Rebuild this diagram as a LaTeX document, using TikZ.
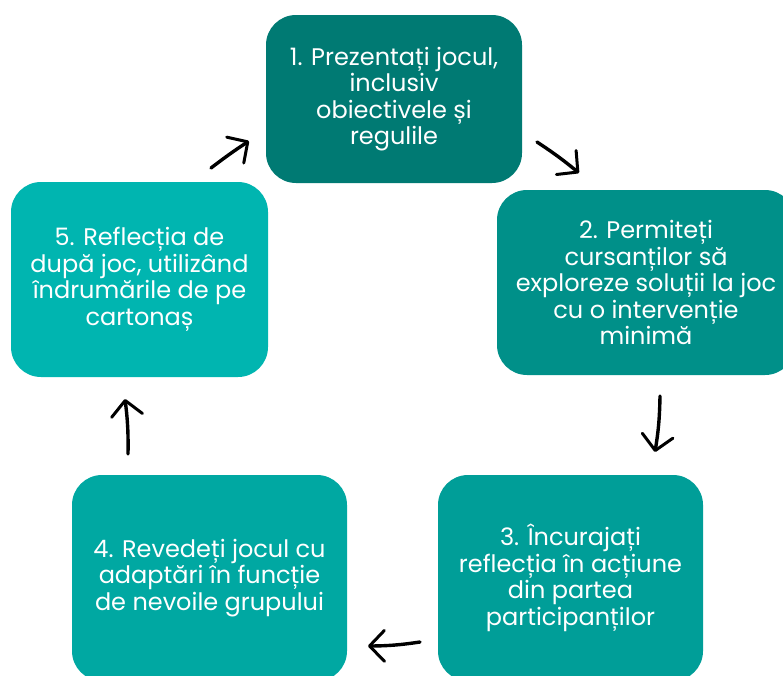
\documentclass[tikz,border=0pt]{standalone}
\usepackage{fontspec}
\setmainfont{Poppins}
\usetikzlibrary{arrows.meta}
\definecolor{cA}{HTML}{007A73}
\definecolor{cB}{HTML}{009089}
\definecolor{cC}{HTML}{009E98}
\definecolor{cD}{HTML}{00A8A2}
\definecolor{cE}{HTML}{00B5B0}
\tikzset{
  stepbox/.style={rounded corners=30pt, inner sep=0pt, align=center, text=white,
    font=\fontsize{24}{26.5}\selectfont},
  flow/.style={line width=3.4pt, line cap=round, draw=black,
    -{Straight Barb[length=15pt,width=31pt,line width=3pt,round]}}
}
\begin{document}
\begin{tikzpicture}[x=1pt,y=-1pt]
\useasboundingbox (0,0) rectangle (783,675);
\clip (0,0) rectangle (783,675);
\node[stepbox, fill=cA, minimum width=256pt, minimum height=168pt] (b1) at (394,99)
  {1. Prezentați jocul,\\inclusiv\\obiectivele și\\regulile};
\node[stepbox, fill=cB, minimum width=298pt, minimum height=185pt] (b2) at (646,282.5)
  {2. Permiteți\\cursanților să\\exploreze soluții la joc\\cu o intervenție\\minimă};
\node[stepbox, fill=cC, minimum width=265pt, minimum height=206pt] (b3) at (570.5,578)
  {3. Încurajați\\reflecția în acțiune\\din partea\\participanților};
\node[stepbox, fill=cD, minimum width=275pt, minimum height=206pt] (b4) at (209.5,578)
  {4. Revedeți jocul cu\\adaptări în funcție\\de nevoile grupului};
\node[stepbox, fill=cE, minimum width=257pt, minimum height=195pt] (b5) at (139.5,279.5)
  {5. Reflecția de\\după joc, utilizând\\îndrumările de pe\\cartonaș};
\coordinate (a1s) at (537,142); \coordinate (a1e) at (579,173);
\coordinate (a2s) at (660,396); \coordinate (a2e) at (655,452);
\coordinate (a3s) at (420,642); \coordinate (a3e) at (368,646);
\coordinate (a4s) at (128,454); \coordinate (a4e) at (125,399);
\coordinate (a5s) at (211,168); \coordinate (a5e) at (249,141);
\draw[flow] (a1s) to[bend left=3] (a1e);
\draw[flow] (a2s) to[bend left=4] (a2e);
\draw[flow] (a3s) to[bend left=4] (a3e);
\draw[flow] (a4s) to[bend right=4] (a4e);
\draw[flow] (a5s) to[bend left=2] (a5e);
\end{tikzpicture}
\end{document}
